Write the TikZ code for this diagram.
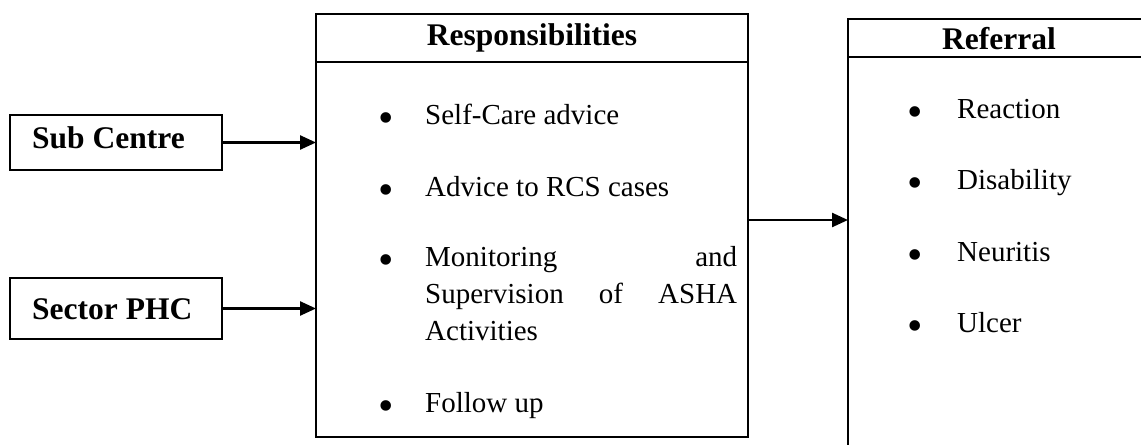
\documentclass[tikz,border=0pt]{standalone}
\usepackage{fontspec}
\setmainfont{Liberation Serif}
\usetikzlibrary{arrows.meta}
\begin{document}
\begin{tikzpicture}[x=1pt,y=-1pt,
  box/.style={draw, line width=2.5pt, inner sep=0pt, outer sep=0pt},
  rule/.style={line width=2.5pt},
  conn/.style={line width=2.5pt, -{Triangle[length=16pt,width=14pt]}},
  lbl/.style={inner sep=0pt, anchor=base west, font=\fontsize{31.5}{36}\selectfont\bfseries},
  head/.style={inner sep=0pt, anchor=base, font=\fontsize{31.5}{36}\selectfont\bfseries},
  item/.style={inner sep=0pt, anchor=base west, font=\fontsize{29}{35}\selectfont},
  dot/.style={inner sep=0pt, anchor=base, yshift=-8pt, font=\fontsize{44}{44}\selectfont}]
\useasboundingbox (0,0) rectangle (1141,446);

% left boxes
\node[box, minimum width=212pt, minimum height=55pt] (sub) at (116,142.5) {};
\node[box, minimum width=212pt, minimum height=61pt] (sec) at (116,308.5) {};
\node[lbl] (subt) at (32,149) {Sub Centre};
\node[lbl] (sect) at (32,320) {Sector PHC};

% responsibilities box
\node[box, minimum width=432pt, minimum height=423pt] (resp) at (532,225.5) {};
\draw[rule] ([yshift=-48pt]resp.north west) -- ([yshift=-48pt]resp.north east);
\node[head] (resph) at (532,46) {Responsibilities};

\node[dot] (b1) at (386,125) {•};
\node[item] (t1) at (425,125) {Self-Care advice};
\node[dot] (b2) at (386,197) {•};
\node[item] (t2) at (425,197) {Advice to RCS cases};
\node[dot] (b3) at (386,267) {•};
\node[item] (t3a) at (425,267) {\makebox[312pt][s]{Monitoring and}};
\node[item] (t3b) at (425,304) {\makebox[312pt][s]{Supervision of ASHA}};
\node[item] (t3c) at (425,341) {Activities};
\node[dot] (b4) at (386,412) {•};
\node[item] (t4) at (425,412) {Follow up};

% referral box (open on the right and bottom)
\coordinate (reftl) at (848,19);
\coordinate (reftr) at (1141,19);
\coordinate (refbl) at (848,445);
\coordinate (refdl) at (848,57);
\coordinate (refdr) at (1141,57);
\coordinate (refin) at (848,220);
\draw[rule] (reftr) -- (reftl) -- (refbl);
\draw[rule] (refdl) -- (refdr);
\node[head] (refh) at (999,50) {Referral};

\node[dot] (r1) at (915,119) {•};
\node[item] (rt1) at (957,119) {Reaction};
\node[dot] (r2) at (915,190) {•};
\node[item] (rt2) at (957,190) {Disability};
\node[dot] (r3) at (915,262) {•};
\node[item] (rt3) at (957,262) {Neuritis};
\node[dot] (r4) at (915,333) {•};
\node[item] (rt4) at (957,333) {Ulcer};

% connectors
\draw[conn] (sub.east) -- (sub.east -| resp.west);
\draw[conn] (sec.east) -- (sec.east -| resp.west);
\draw[conn] ([yshift=5.5pt]resp.east) -- (refin);
\end{tikzpicture}
\end{document}
